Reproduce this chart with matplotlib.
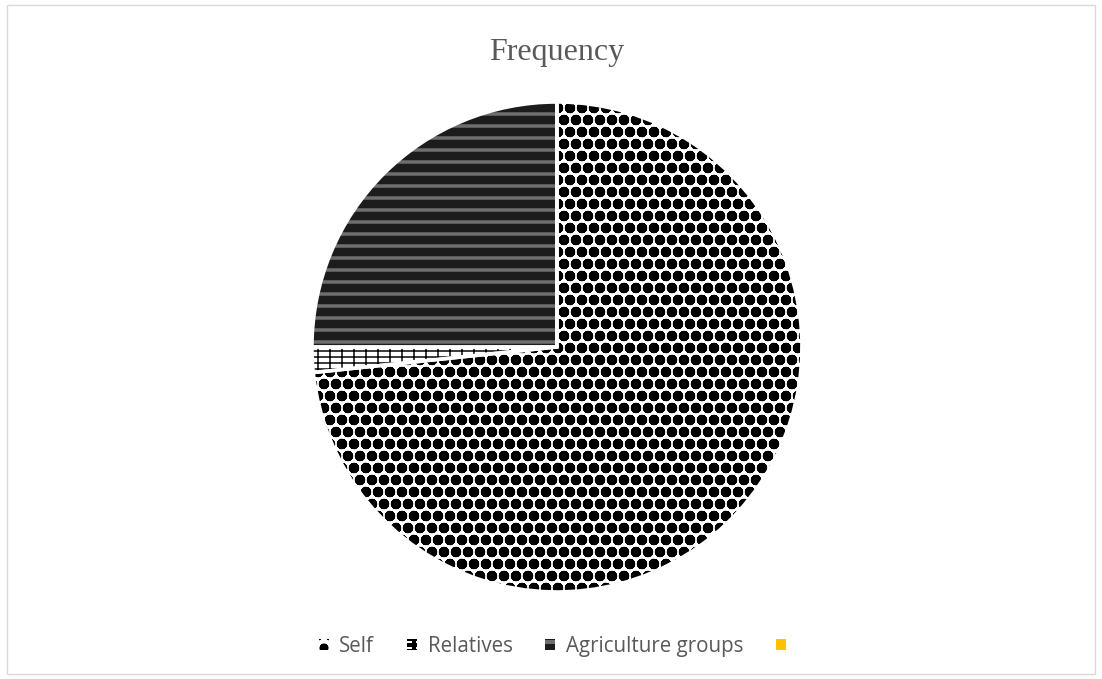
import matplotlib.pyplot as plt
from matplotlib.patches import Patch, Rectangle

categories = ["Self", "Relatives", "Agriculture groups", ""]
frequency = [88, 2, 30, 0]

fills = ["white", "white", "#1c1c1c", "#ffc000"]
hatches = ["o", "--|", "-", None]
hatch_cols = ["black", "black", "#6e6e6e", "#ffc000"]
hatch_lw = [5.6, 1.5, 3.5, 1.0]

# 72 dpi so that one hatch tile is 72 px and the dot pattern stays fine
DPI = 72
plt.rcParams["hatch.linewidth"] = 4.0

fig = plt.figure(figsize=(1102 / DPI, 679 / DPI), dpi=DPI)
fig.patches.append(Rectangle((0.006, 0.008), 0.988, 0.984, transform=fig.transFigure,
                             fill=False, edgecolor="#d9d9d9", linewidth=1.4))

ax = fig.add_axes([0.2831, 0.1282, 0.4446, 0.7216])
wedges, _ = ax.pie(frequency, startangle=90, counterclock=False, radius=1)
for w, fc, h, hc, lw in zip(wedges, fills, hatches, hatch_cols, hatch_lw):
    w.set_facecolor(fc)
    w.set_hatch(h)
    w.set_edgecolor(hc)
    w.set_linewidth(0)
    if hasattr(w, "set_hatch_linewidth"):
        w.set_hatch_linewidth(lw)

# white separators between slices
ax.pie(frequency, startangle=90, counterclock=False, radius=1,
       wedgeprops=dict(fill=False, edgecolor="white", linewidth=3.5))
ax.set_xlim(-1.0, 1.0)
ax.set_ylim(-1.0, 1.0)
ax.set_aspect("equal")

fig.text(0.505, 0.922, "Frequency", ha="center", va="center",
         fontsize=32, color="#595959", family="Liberation Serif")

handles = []
for fc, h, hc, lw in zip(fills, hatches, hatch_cols, hatch_lw):
    p = Patch(facecolor=fc, edgecolor=hc, hatch=h, linewidth=0)
    if hasattr(p, "set_hatch_linewidth"):
        p.set_hatch_linewidth(min(lw, 3.0))
    handles.append(p)
fig.legend(handles, categories, loc="center", bbox_to_anchor=(0.506, 0.048),
           ncol=4, frameon=False, handlelength=0.5, handleheight=0.5,
           handletextpad=0.5, columnspacing=1.6,
           prop={"family": "Open Sans", "size": 20.5}, labelcolor="#595959")

fig.savefig("out.png", dpi=DPI)
